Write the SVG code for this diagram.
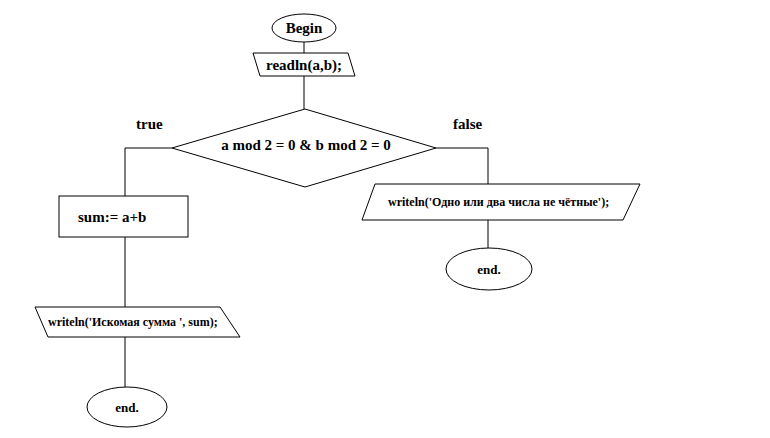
<svg xmlns="http://www.w3.org/2000/svg" width="770" height="438" viewBox="0 0 770 438">
<style>
.s{fill:#fff;stroke:#000;stroke-width:1}
.c{fill:none;stroke:#000;stroke-width:1}
text{font-family:"Liberation Serif","DejaVu Serif",serif;font-weight:bold;fill:#000}
.m{text-anchor:middle}
</style>
<rect width="770" height="438" fill="#fff"/>
<g id="connectors">
<line class="c" x1="304" y1="42" x2="304" y2="53"/>
<line class="c" x1="304" y1="76" x2="304" y2="109"/>
<polyline class="c" points="172,148 125,148 125,196"/>
<line class="c" x1="125" y1="237" x2="125" y2="307"/>
<line class="c" x1="125" y1="337" x2="125" y2="387"/>
<polyline class="c" points="436,148 488,148 488,184"/>
<line class="c" x1="488" y1="220" x2="488" y2="248"/>
</g>
<g id="begin">
<ellipse class="s" cx="304" cy="28" rx="32" ry="14"/>
<text class="m" x="304" y="33" font-size="15">Begin</text>
</g>
<g id="read">
<polygon class="s" points="253,53 348,53 355,76 260,76"/>
<text class="m" x="304" y="70" font-size="15">readln(a,b);</text>
</g>
<g id="cond">
<polygon class="s" points="305,109 436,148 305,187 172,148"/>
<text class="m" x="306" y="150" font-size="15">a mod 2 = 0 &amp; b mod 2 = 0</text>
</g>
<text x="136" y="129" font-size="15">true</text>
<text x="453" y="129" font-size="15">false</text>
<g id="sum">
<rect class="s" x="59" y="196" width="129" height="41"/>
<text x="78" y="222" font-size="15">sum:= a+b</text>
</g>
<g id="write1">
<polygon class="s" points="35,307 220,307 240,337 48,337"/>
<text x="48" y="326" font-size="12">writeln('Искомая сумма ', sum);</text>
</g>
<g id="end1">
<ellipse class="s" cx="127" cy="407" rx="40" ry="20"/>
<text class="m" x="127" y="412" font-size="13">end.</text>
</g>
<g id="write2">
<polygon class="s" points="375,184 640,184 623,220 362,220"/>
<text x="388" y="206" font-size="12">writeln('Одно или два числа не чётные');</text>
</g>
<g id="end2">
<ellipse class="s" cx="489" cy="269" rx="43" ry="21"/>
<text class="m" x="489" y="274" font-size="13">end.</text>
</g>
</svg>
